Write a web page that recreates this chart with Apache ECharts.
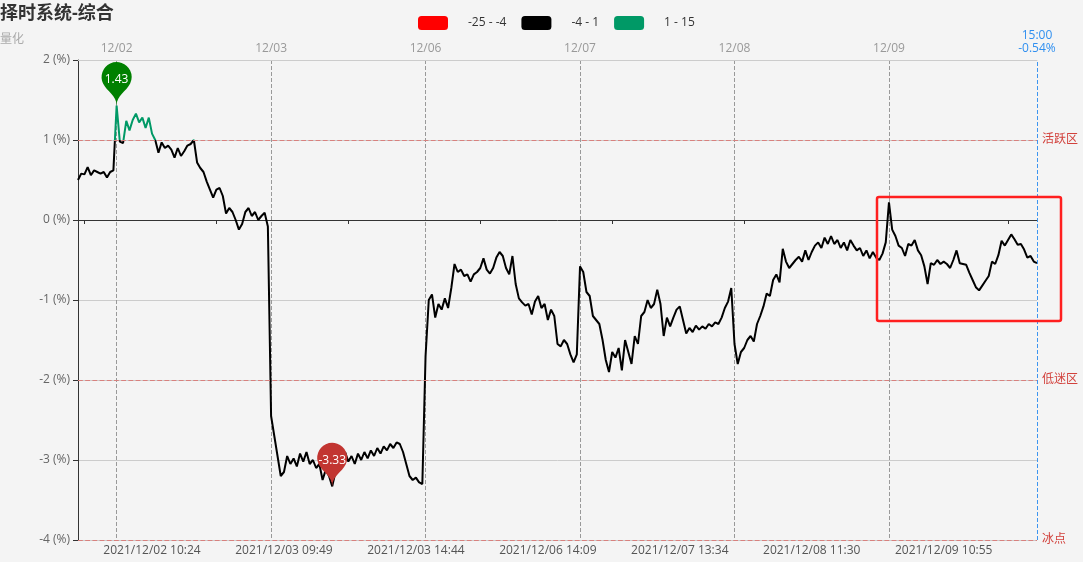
<!DOCTYPE html>
<html><head><meta charset="utf-8">
<script src="https://cdn.jsdelivr.net/npm/echarts@6/dist/echarts.min.js"></script>
<style>html,body{margin:0;padding:0;background:#f4f4f4}#c{width:1083px;height:562px}</style>
</head><body><div id="c"></div>
<script>
// ---- data ----
const tradeDays = ['2021/12/01','2021/12/02','2021/12/03','2021/12/06','2021/12/07','2021/12/08','2021/12/09'];
const d1201 = [0.50,0.58,0.57,0.66,0.56,0.62,0.60,0.58,0.60,0.53,0.60,0.62];
const d1202 = [1.43,0.98,0.96,1.24,1.12,1.25,1.33,1.22,1.28,1.15,1.28,1.08,
               1.00,0.84,0.97,0.90,0.93,0.88,0.78,0.90,0.80,0.86,0.93,0.95,
               1.00,0.72,0.65,0.60,0.48,0.38,0.28,0.38,0.40,0.30,0.08,0.15,
               0.10,0.00,-0.12,-0.05,0.10,0.15,0.05,0.10,0.00,0.05,0.09,-0.08];
const d1203 = [-2.45,-2.70,-2.95,-3.20,-3.15,-2.95,-3.05,-2.98,-3.08,-2.92,-3.02,-2.90,
               -3.05,-3.00,-3.10,-3.05,-3.25,-3.12,-3.20,-3.33,-3.15,-2.95,-3.05,-2.90,
               -3.02,-2.95,-3.05,-2.92,-3.00,-2.90,-2.98,-2.88,-2.95,-2.85,-2.92,-2.83,
               -2.88,-2.80,-2.85,-2.78,-2.80,-2.90,-3.05,-3.20,-3.25,-3.22,-3.28,-3.30];
const d1206 = [-1.70,-1.00,-0.93,-1.22,-1.05,-1.12,-0.98,-1.10,-0.85,-0.55,-0.65,-0.62,
               -0.70,-0.68,-0.77,-0.68,-0.65,-0.60,-0.48,-0.62,-0.67,-0.60,-0.47,-0.40,
               -0.45,-0.60,-0.68,-0.45,-0.80,-0.98,-1.03,-1.07,-1.05,-1.18,-1.02,-0.95,
               -1.10,-1.05,-1.25,-1.12,-1.20,-1.55,-1.58,-1.50,-1.55,-1.68,-1.78,-1.68];
const d1207 = [-0.58,-0.65,-0.90,-0.95,-1.20,-1.25,-1.30,-1.50,-1.75,-1.90,-1.65,-1.72,
               -1.60,-1.88,-1.50,-1.65,-1.80,-1.45,-1.55,-1.20,-1.15,-1.00,-1.10,-1.05,
               -0.87,-1.05,-1.45,-1.22,-1.33,-1.22,-1.12,-1.08,-1.25,-1.42,-1.35,-1.40,
               -1.32,-1.37,-1.33,-1.36,-1.30,-1.33,-1.28,-1.30,-1.22,-1.10,-1.02,-0.85];
const d1208 = [-1.55,-1.80,-1.65,-1.60,-1.50,-1.45,-1.52,-1.30,-1.20,-1.08,-0.92,-0.95,
               -0.75,-0.68,-0.78,-0.36,-0.52,-0.60,-0.55,-0.50,-0.46,-0.52,-0.38,-0.50,
               -0.40,-0.32,-0.28,-0.35,-0.22,-0.30,-0.20,-0.30,-0.25,-0.35,-0.28,-0.38,
               -0.25,-0.32,-0.38,-0.35,-0.45,-0.38,-0.48,-0.40,-0.47,-0.50,-0.42,-0.28];
const d1209 = [0.22,-0.12,-0.20,-0.32,-0.35,-0.45,-0.30,-0.32,-0.25,-0.38,-0.44,-0.58,
               -0.80,-0.54,-0.56,-0.50,-0.55,-0.52,-0.55,-0.60,-0.50,-0.38,-0.54,-0.55,
               -0.56,-0.66,-0.75,-0.84,-0.88,-0.82,-0.76,-0.70,-0.52,-0.55,-0.44,-0.26,
               -0.32,-0.25,-0.18,-0.24,-0.31,-0.30,-0.37,-0.47,-0.45,-0.52,-0.54];
const dayValues = [d1201, d1202, d1203, d1206, d1207, d1208, d1209];
const bottomLabels = ['2021/12/02 10:24','2021/12/03 09:49','2021/12/03 14:44','2021/12/06 14:09',
                      '2021/12/07 13:34','2021/12/08 11:30','2021/12/09 10:55'];
const endTime = '15:00';
const zoneLines = [{value: 1, name: '活跃区'}, {value: -2, name: '低迷区'}, {value: -4, name: '冰点'}];
const pieces = [{min: -25, max: -4, color: '#ff0000'}, {min: -4, max: 1, color: '#000000'}, {min: 1, max: 15, color: '#009966'}];

// 5-minute trading slots
const pad = n => (n < 10 ? '0' : '') + n;
const fmt = m => pad(Math.floor(m / 60)) + ':' + pad(m % 60);
const slotTimes = [];
for (let m = 9 * 60 + 35; m <= 11 * 60 + 30; m += 5) slotTimes.push(fmt(m));
for (let m = 13 * 60 + 5; m <= 15 * 60; m += 5) slotTimes.push(fmt(m));

const categories = [], values = [], dayStart = [];
dayValues.forEach((arr, d) => {
  const slots = d === 0 ? slotTimes.slice(slotTimes.length - arr.length) : slotTimes.slice(0, arr.length);
  if (d > 0) dayStart.push(categories.length);
  arr.forEach((v, k) => { categories.push(tradeDays[d] + ' ' + slots[k]); values.push(v); });
});
const dayStartSet = new Set(dayStart);
const lastIdx = values.length - 1;
const labelStart = 23, labelStep = 41, tickStart = 2;

const FONT = '"Open Sans", "Noto Sans CJK SC", sans-serif';
const chart = echarts.init(document.getElementById('c'));
const redLine = {type: 'dashed', color: '#d8817e', width: 1.2};
chart.setOption({
  animation: false,
  backgroundColor: '#f4f4f4',
  textStyle: {fontFamily: FONT},
  title: {
    text: '择时系统-综合', subtext: '量化', left: 0, top: 0, padding: [5, 5, 5, 0], itemGap: 11,
    textStyle: {fontSize: 18, fontWeight: 'bold', color: '#333', fontFamily: FONT},
    subtextStyle: {fontSize: 12, color: '#aaa', fontFamily: FONT}
  },
  visualMap: {
    type: 'piecewise', show: true, orient: 'horizontal', left: 403, top: 1,
    itemWidth: 30, itemHeight: 14, itemGap: 15, textGap: 20,
    textStyle: {color: '#333', fontSize: 12, fontFamily: FONT},
    seriesIndex: 0, dimension: 1, pieces: pieces
  },
  grid: {left: 78, right: 46, top: 60, bottom: 22, containLabel: false, outerBoundsMode: 'none'},
  xAxis: [
    {
      type: 'category', data: categories, boundaryGap: false, position: 'bottom',
      axisLine: {onZero: true, lineStyle: {color: '#333'}},
      axisTick: {show: true, length: 4, interval: i => i >= tickStart && (i - tickStart) % labelStep === 0, lineStyle: {color: '#333'}},
      axisLabel: {show: false}, splitLine: {show: false}
    },
    {
      type: 'category', data: categories, boundaryGap: false, position: 'top',
      axisLine: {onZero: false, lineStyle: {color: '#ccc'}},
      axisTick: {show: false},
      axisLabel: {color: '#999', fontSize: 12, margin: 5, fontFamily: FONT, interval: i => dayStartSet.has(i), formatter: v => v.slice(5, 10)},
      splitLine: {show: true, interval: i => dayStartSet.has(i), lineStyle: {color: '#999', type: 'dashed'}}
    },
    {
      type: 'category', data: categories, boundaryGap: false, position: 'bottom',
      axisLine: {show: false, onZero: false}, axisTick: {show: false}, splitLine: {show: false},
      axisLabel: {
        color: '#555', fontSize: 12, margin: 5, fontFamily: FONT,
        interval: i => i >= labelStart && (i - labelStart) % labelStep === 0,
        formatter: (v, i) => bottomLabels[Math.round((i - labelStart) / labelStep)] || ''
      }
    }
  ],
  yAxis: {
    type: 'value', min: -4, max: 2, interval: 1,
    axisLine: {show: true, lineStyle: {color: '#333'}},
    axisTick: {show: true, length: 5, lineStyle: {color: '#333'}},
    axisLabel: {formatter: '{value} (%)', color: '#666', fontSize: 12, margin: 8, fontFamily: FONT},
    splitLine: {lineStyle: {color: '#ccc'}}
  },
  series: [{
    type: 'line', xAxisIndex: 0, yAxisIndex: 0, data: values,
    showSymbol: false, symbol: 'none', lineStyle: {width: 2},
    markPoint: {
      symbol: 'pin', symbolSize: 50,
      label: {color: '#fff', fontSize: 12, fontFamily: FONT},
      data: [
        {type: 'max', itemStyle: {color: '#008000'}},
        {type: 'min', itemStyle: {color: '#c23531'}}
      ]
    },
    markLine: {
      symbol: 'none', silent: true,
      data: zoneLines.map(z => ({
        yAxis: z.value, name: z.name, lineStyle: redLine,
        label: {position: 'end', formatter: '{b}', color: '#d2413c', fontSize: 12, fontFamily: FONT}
      })).concat([{
        xAxis: categories[lastIdx],
        lineStyle: {type: 'dashed', color: '#3d95f0', width: 1},
        label: {position: 'end', formatter: endTime + '\n' + values[lastIdx].toFixed(2) + '%', color: '#2f8ff0', fontSize: 12, lineHeight: 13, fontFamily: FONT}
      }])
    }
  }],
  graphic: [{
    type: 'rect', z: 100,
    shape: {x: 877, y: 197, width: 184, height: 124, r: 2},
    style: {fill: 'none', stroke: '#ff1f1f', lineWidth: 2.5}
  }]
});
</script></body></html>
